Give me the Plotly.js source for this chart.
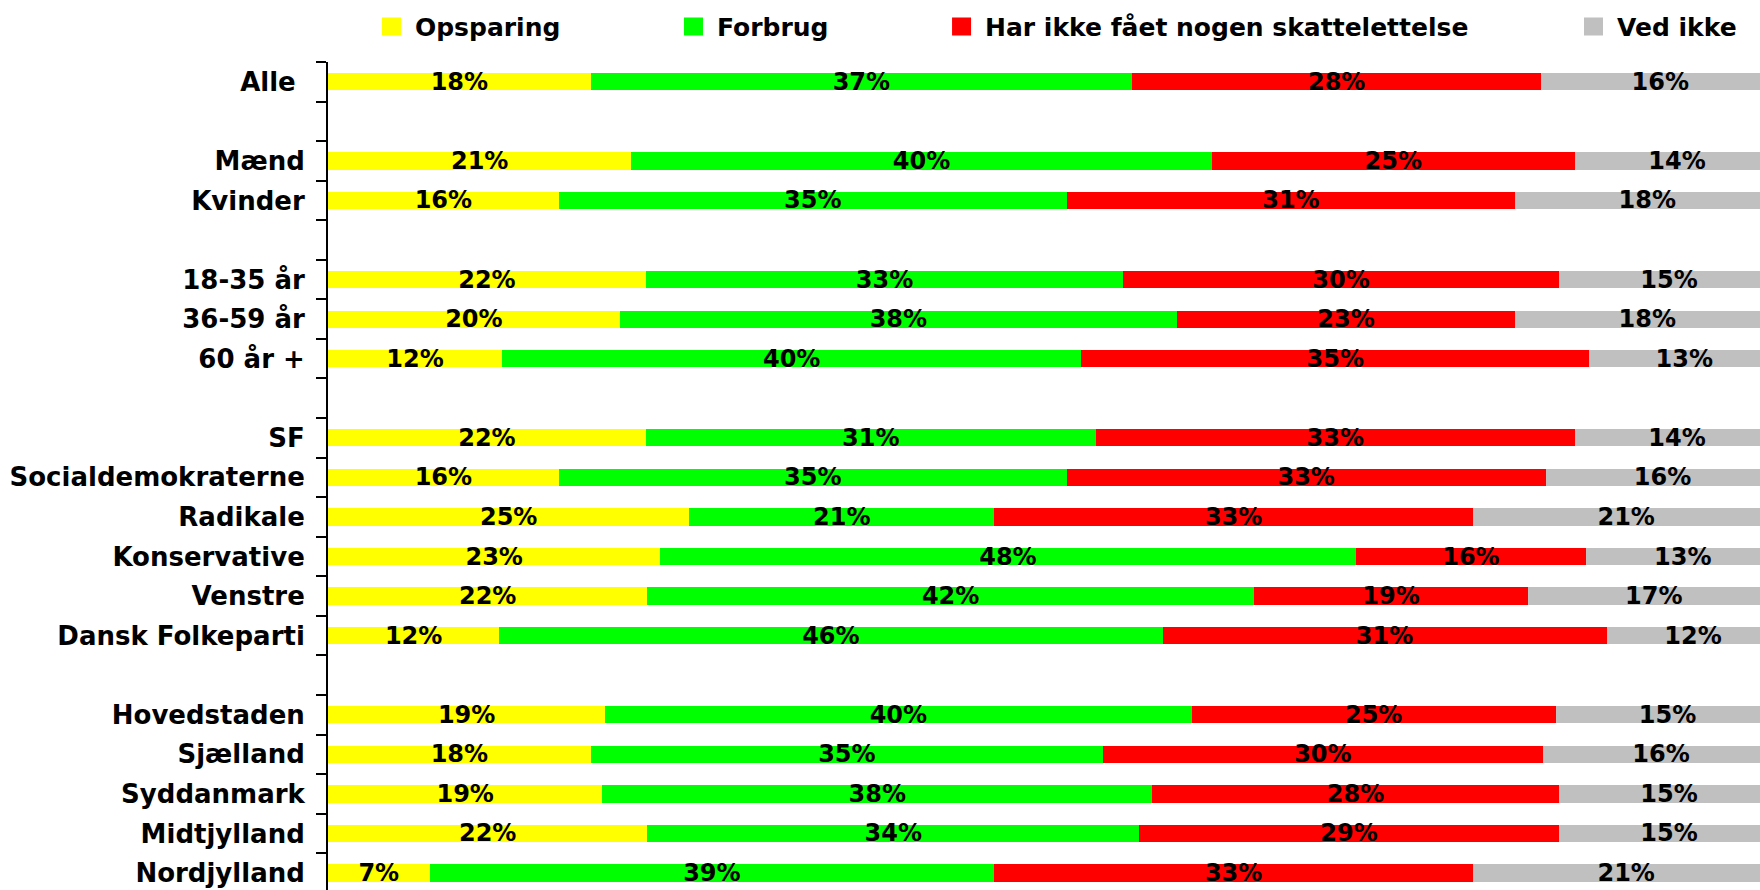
<!DOCTYPE html>
<html>
<head>
<meta charset="utf-8">
<script src="https://cdn.plot.ly/plotly-3.0.1.min.js"></script>
<style>
  html, body { margin: 0; padding: 0; background: #fff; }
  #chart { width: 1760px; height: 890px; }
</style>
</head>
<body>
<div id="chart"></div>
<script>
// Categories top to bottom (blank entries are the gaps between groups)
const categories = ['Alle\u00a0', ' ', 'Mænd', 'Kvinder', '  ', '18-35 år', '36-59 år', '60 år +', '   ',
  'SF', 'Socialdemokraterne', 'Radikale', 'Konservative', 'Venstre', 'Dansk Folkeparti', '    ',
  'Hovedstaden', 'Sjælland', 'Syddanmark', 'Midtjylland', 'Nordjylland'];

const seriesNames = ['Opsparing', 'Forbrug', 'Har ikke fået nogen skattelettelse', 'Ved ikke'];

// Percent values
const opsparing = [18.1, null, 20.9, 15.9, null, 21.9, 20.1, 12.0, null, 21.9, 15.9, 24.9, 22.9, 22.0, 11.8, null, 19.1, 18.1, 18.9, 22.0, 7.0];
const forbrug   = [37.3, null, 40.0, 35.0, null, 32.9, 38.4, 39.9, null, 31.0, 35.0, 21.0, 47.9, 41.8, 45.7, null, 40.4, 35.3, 37.9, 33.9, 38.9];
const harIkke   = [28.2, null, 25.0, 30.9, null, 30.0, 23.3, 35.0, null, 33.0, 33.0, 33.0, 15.9, 18.9, 30.6, null, 25.1, 30.3, 28.0, 28.9, 33.0];
const vedIkke   = [16.4, null, 14.1, 18.2, null, 15.2, 18.2, 13.1, null, 14.1, 16.1, 21.1, 13.3, 17.3, 11.9, null, 15.4, 16.3, 15.2, 15.2, 21.1];

const seriesValues = [opsparing, forbrug, harIkke, vedIkke];
const seriesColors = ['#FFFF00', '#00FF00', '#FF0000', '#C0C0C0'];
const legendIds = ['legend', 'legend2', 'legend3', 'legend4'];

const traces = seriesValues.map((vals, i) => ({
  type: 'bar',
  orientation: 'h',
  name: seriesNames[i],
  x: vals,
  y: categories,
  legend: legendIds[i],
  marker: { color: seriesColors[i], line: { width: 0 } },
  texttemplate: '%{x:.0f}%',
  textposition: 'inside',
  insidetextanchor: 'middle',
  textangle: 0,
  constraintext: 'none',
  textfont: { family: 'DejaVu Sans', size: 24, weight: 'bold', color: '#000000' },
  hoverinfo: 'skip'
}));

const legendFont = { family: 'DejaVu Sans', size: 25, weight: 'bold', color: '#000000' };
function legendAt(x) {
  return { x: x, y: 1.0425, xanchor: 'left', yanchor: 'middle', orientation: 'h',
           bgcolor: 'rgba(0,0,0,0)', borderwidth: 0, font: legendFont };
}

const layout = {
  width: 1760,
  height: 890,
  margin: { l: 328, r: 0, t: 62, b: 0, pad: 0 },
  paper_bgcolor: '#ffffff',
  plot_bgcolor: '#ffffff',
  barmode: 'stack',
  bargap: 0.563,
  showlegend: true,
  legend: legendAt(0.0328),
  legend2: legendAt(0.2437),
  legend3: legendAt(0.4309),
  legend4: legendAt(0.8722),
  xaxis: { visible: false, range: [0, 98.67], fixedrange: true },
  yaxis: {
    type: 'category',
    categoryorder: 'array',
    categoryarray: categories,
    range: [20.43, -0.5],
    showline: true, linecolor: '#000000', linewidth: 2,
    ticks: 'outside', ticklen: 10, tickwidth: 2, tickcolor: '#000000',
    tickson: 'boundaries',
    ticklabelstandoff: 16,
    showgrid: false, zeroline: false,
    tickfont: { family: 'DejaVu Sans', size: 26, weight: 'bold', color: '#000000' },
    fixedrange: true
  }
};

function enlargeLegendSquares() {
  // enlarge the legend colour squares to the size used in the reference
  document.querySelectorAll('#chart .legendpoints path').forEach(p => {
    p.setAttribute('d', 'M6,9H-13V-9H6Z');
  });
}

const gd = document.getElementById('chart');
Plotly.newPlot(gd, traces, layout, { displayModeBar: false, staticPlot: true }).then(() => {
  enlargeLegendSquares();
  requestAnimationFrame(enlargeLegendSquares);
  setTimeout(enlargeLegendSquares, 0);
});
gd.on && gd.on('plotly_afterplot', enlargeLegendSquares);
</script>
</body>
</html>
